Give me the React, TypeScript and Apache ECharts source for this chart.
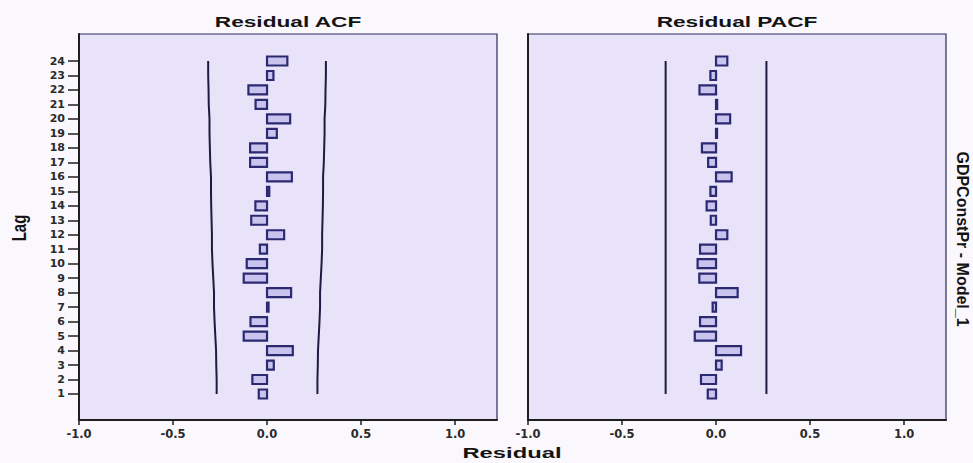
import React, { useEffect, useRef } from "react";
import * as echarts from "echarts";

const lags = [1, 2, 3, 4, 5, 6, 7, 8, 9, 10, 11, 12, 13, 14, 15, 16, 17, 18, 19, 20, 21, 22, 23, 24];
const acfValues = [-0.044, -0.078, 0.036, 0.137, -0.124, -0.088, 0.008, 0.128, -0.124, -0.108, -0.038, 0.091, -0.084, -0.062, 0.012, 0.132, -0.09, -0.09, 0.052, 0.123, -0.061, -0.099, 0.034, 0.108];
const pacfValues = [-0.044, -0.08, 0.03, 0.133, -0.113, -0.085, -0.018, 0.115, -0.089, -0.098, -0.085, 0.06, -0.028, -0.05, -0.03, 0.083, -0.042, -0.075, 0.005, 0.075, 0.006, -0.088, -0.03, 0.06];
const acfLimits = [0.268, 0.268, 0.27, 0.271, 0.275, 0.279, 0.282, 0.282, 0.286, 0.29, 0.293, 0.293, 0.295, 0.297, 0.298, 0.298, 0.302, 0.304, 0.306, 0.306, 0.31, 0.311, 0.313, 0.313];
const pacfLimits = [0.268, 0.268, 0.268, 0.268, 0.268, 0.268, 0.268, 0.268, 0.268, 0.268, 0.268, 0.268, 0.268, 0.268, 0.268, 0.268, 0.268, 0.268, 0.268, 0.268, 0.268, 0.268, 0.268, 0.268];
const xTicks = [-1, -0.5, 0, 0.5, 1];
const panelTitles = ["Residual ACF", "Residual PACF"];
const xAxisTitle = "Residual";
const yAxisTitle = "Lag";
const rightLabel = "GDPConstPr - Model_1";

const LINE_COLOR = "#1c1c3e";
const TEXT_COLOR = "#141414";

export default function App() {
  const ref = useRef<HTMLDivElement>(null);

  useEffect(() => {
    if (!ref.current) return;
    const chart = echarts.init(ref.current, null, { renderer: "svg" });

    const grids = [
      { left: 79, top: 34, width: 418, height: 386 },
      { left: 528, top: 34, width: 418, height: 386 },
    ].map((g) => ({
      ...g,
      show: true,
      backgroundColor: "#e8e3f9",
      borderColor: "#2c2c58",
      borderWidth: 1.2,
    }));

    const xAxes = [0, 1].map((i) => ({
      type: "value",
      gridIndex: i,
      min: -1,
      max: 1.223,
      axisLine: { show: true, onZero: false, lineStyle: { color: "#1e1e1e", width: 2 } },
      axisTick: {
        show: true,
        customValues: xTicks,
        length: 5,
        lineStyle: { color: "#1e1e1e", width: 1.5 },
      },
      axisLabel: {
        customValues: xTicks,
        formatter: (v: number) => v.toFixed(1),
        margin: 8,
        fontFamily: '"DejaVu Sans", sans-serif',
        fontWeight: "bold",
        fontSize: 11.5,
        color: "#2a2a2a",
      },
      splitLine: { show: false },
    }));

    const yAxes = [0, 1].map((i) => ({
      type: "value",
      gridIndex: i,
      min: -0.796,
      max: 25.865,
      axisLine: { show: true, onZero: false, lineStyle: { color: "#1e1e1e", width: 2 } },
      axisTick: {
        show: i === 0,
        customValues: lags,
        length: 11,
        lineStyle: { color: "#1e1e1e", width: 1.5 },
      },
      axisLabel: {
        show: i === 0,
        customValues: lags,
        margin: 14,
        fontFamily: '"DejaVu Sans", sans-serif',
        fontWeight: "bold",
        fontSize: 11,
        color: "#2a2a2a",
      },
      splitLine: { show: false },
    }));

    const barSeries = (idx: number, values: number[]) => ({
      type: "custom",
      xAxisIndex: idx,
      yAxisIndex: idx,
      encode: { x: 0, y: 1 },
      data: lags.map((l, i) => [values[i], l]),
      renderItem: (params: any, api: any) => {
        const v = api.value(0);
        const lag = api.value(1);
        const p0 = api.coord([0, lag]);
        const p1 = api.coord([v, lag]);
        const h = 9;
        const w = Math.max(Math.abs(p1[0] - p0[0]), 1);
        return {
          type: "rect",
          shape: { x: Math.min(p0[0], p1[0]), y: p0[1] - h / 2, width: w, height: h },
          style: { fill: "#c8c4ee", stroke: "#2a2972", lineWidth: 2.2 },
        };
      },
      z: 3,
    });

    const limitSeries = (idx: number, limits: number[], sign: number) => ({
      type: "line",
      xAxisIndex: idx,
      yAxisIndex: idx,
      data: lags.map((l, i) => [sign * limits[i], l]),
      symbol: "none",
      lineStyle: { color: LINE_COLOR, width: 2 },
      z: 2,
    });

    const titleFont = 'bold 14px "Liberation Sans", Arial, sans-serif';

    chart.setOption({
      animation: false,
      backgroundColor: "#fbf8fd",
      grid: grids,
      xAxis: xAxes,
      yAxis: yAxes,
      series: [
        limitSeries(0, acfLimits, 1),
        limitSeries(0, acfLimits, -1),
        limitSeries(1, pacfLimits, 1),
        limitSeries(1, pacfLimits, -1),
        barSeries(0, acfValues),
        barSeries(1, pacfValues),
      ],
      graphic: [
        {
          type: "text",
          x: 288,
          y: 22,
          scaleX: 1.62,
          style: { text: panelTitles[0], font: titleFont, fill: TEXT_COLOR, textAlign: "center", textVerticalAlign: "middle" },
        },
        {
          type: "text",
          x: 737,
          y: 22,
          scaleX: 1.62,
          style: { text: panelTitles[1], font: titleFont, fill: TEXT_COLOR, textAlign: "center", textVerticalAlign: "middle" },
        },
        {
          type: "text",
          x: 512,
          y: 453,
          scaleX: 1.7,
          style: { text: xAxisTitle, font: titleFont, fill: TEXT_COLOR, textAlign: "center", textVerticalAlign: "middle" },
        },
        {
          type: "text",
          x: 19,
          y: 228,
          rotation: Math.PI / 2,
          scaleY: 1.3,
          style: { text: yAxisTitle, font: 'bold 15px "Liberation Sans", Arial, sans-serif', fill: TEXT_COLOR, textAlign: "center", textVerticalAlign: "middle" },
        },
        {
          type: "text",
          x: 962,
          y: 239,
          rotation: -Math.PI / 2,
          style: { text: rightLabel, font: 'bold 16px "Liberation Sans", Arial, sans-serif', fill: TEXT_COLOR, textAlign: "center", textVerticalAlign: "middle" },
        },
      ],
    });

    return () => chart.dispose();
  }, []);

  return (
    <div
      ref={ref}
      style={{ position: "fixed", left: 0, top: 0, width: 973, height: 463 }}
    />
  );
}
